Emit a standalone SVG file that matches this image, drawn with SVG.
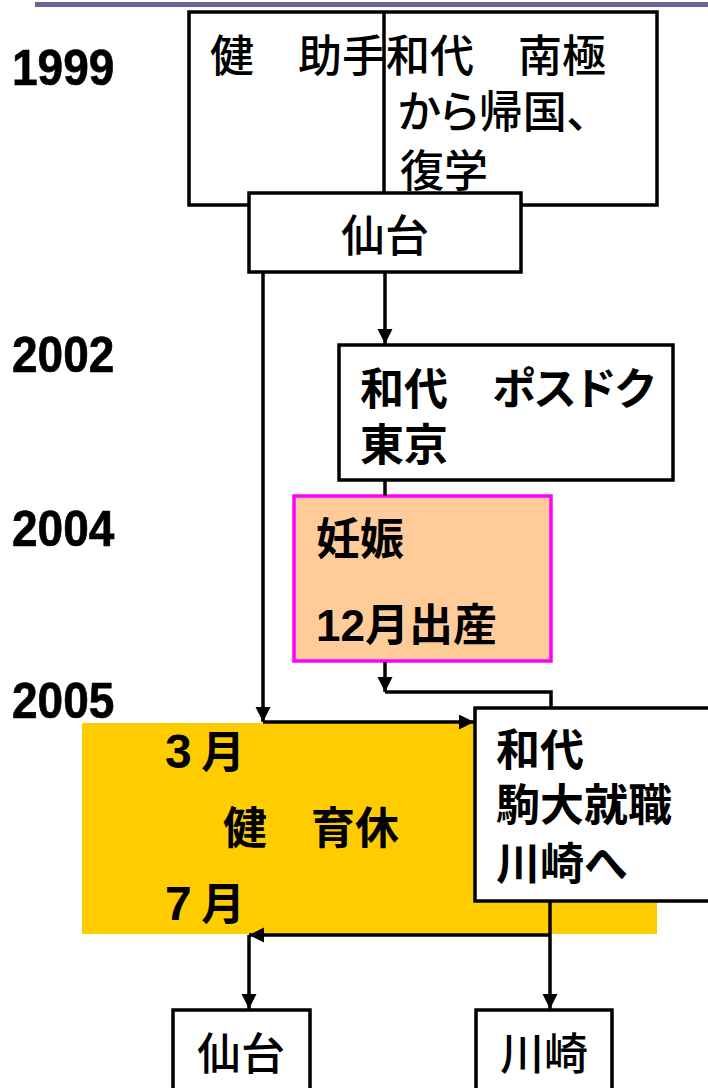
<svg xmlns="http://www.w3.org/2000/svg" width="708" height="1088" viewBox="0 0 708 1088">
<style>
.t{font-family:"Liberation Sans","Noto Sans CJK JP",sans-serif;font-size:44px;fill:#000}
.b{font-weight:bold}
.m{font-weight:500}
.yr{font-family:"Liberation Sans",Arial,sans-serif;font-weight:bold;font-size:46px;fill:#000;stroke:#000;stroke-width:0.6}
.box{fill:#fff;stroke:#000;stroke-width:3.5}
.c{fill:none;stroke:#000;stroke-width:3.5}
</style>
<defs>
<marker id="ah" markerUnits="userSpaceOnUse" markerWidth="16" markerHeight="16" refX="15" refY="7.5" orient="auto">
<path d="M0,0 L15,7.5 L0,15 z" fill="#000"/>
</marker>
</defs>
<line x1="35" y1="4.5" x2="708" y2="4.5" stroke="#666699" stroke-width="5"/>
<g id="years">
<text class="yr" transform="translate(12,85) scale(1,1.1)">1999</text>
<text class="yr" transform="translate(12,372) scale(1,1.1)">2002</text>
<text class="yr" transform="translate(12,546) scale(1,1.1)">2004</text>
<text class="yr" transform="translate(12,718) scale(1,1.1)">2005</text>
</g>
<g id="n1999">
<rect class="box" x="189" y="12" width="468" height="193"/>
<line x1="384" y1="12" x2="384" y2="193" stroke="#000" stroke-width="3.5"/>
<text class="t m" x="210" y="72">健　助手</text>
<text class="t m" x="386" y="72">和代　南極</text>
<text class="t m" x="398" y="128" style="font-feature-settings:'palt'">から帰国、</text>
<text class="t m" x="400" y="187">復学</text>
</g>
<g id="sendai1">
<rect class="box" x="249" y="193" width="272" height="79"/>
<text class="t m" x="385" y="252" text-anchor="middle">仙台</text>
</g>
<g id="postdoc">
<rect class="box" x="339" y="345" width="334" height="135"/>
<text class="t b" x="360" y="405" style="font-feature-settings:'palt'">和代　ポスドク</text>
<text class="t b" x="360" y="461">東京</text>
</g>
<g id="pregnancy">
<rect x="294" y="496" width="257" height="165" fill="#FFCC99" stroke="#FF00FF" stroke-width="3.5"/>
<text class="t b" x="316" y="555">妊娠</text>
<text class="t b" x="316" y="641">12月出産</text>
</g>
<g id="leave">
<rect x="82" y="723" width="575" height="211" fill="#FFCC00"/>
<text class="t b" x="165" y="768"><tspan font-size="48">3</tspan><tspan x="201">月</tspan></text>
<text class="t b" x="223" y="844">健　育休</text>
<text class="t b" x="165" y="920"><tspan font-size="48">7</tspan><tspan x="201">月</tspan></text>
</g>
<g id="komadai">
<rect class="box" x="475" y="708" width="236" height="193"/>
<text class="t b" x="496" y="766">和代</text>
<text class="t b" x="496" y="821">駒大就職</text>
<text class="t b" x="496" y="880" style="font-feature-settings:'palt'">川崎へ</text>
</g>
<g id="sendai2">
<rect class="box" x="173" y="1010" width="137" height="90"/>
<text class="t m" x="241" y="1070" text-anchor="middle">仙台</text>
</g>
<g id="kawasaki">
<rect class="box" x="476" y="1010" width="136" height="90"/>
<text class="t m" x="544" y="1070" text-anchor="middle">川崎</text>
</g>
<g id="connectors">
<path class="c" d="M263,273 V722" marker-end="url(#ah)"/>
<path class="c" d="M263,722 H474" marker-end="url(#ah)"/>
<path class="c" d="M385,273 V344" marker-end="url(#ah)"/>
<path class="c" d="M385,481 V496"/>
<path class="c" d="M385,662 V692" marker-end="url(#ah)"/>
<path class="c" d="M385,692 H551 V707"/>
<path class="c" d="M550,902 V1009" marker-end="url(#ah)"/>
<path class="c" d="M550,935 H249" marker-end="url(#ah)"/>
<path class="c" d="M249,935 V1009" marker-end="url(#ah)"/>
</g>
</svg>
